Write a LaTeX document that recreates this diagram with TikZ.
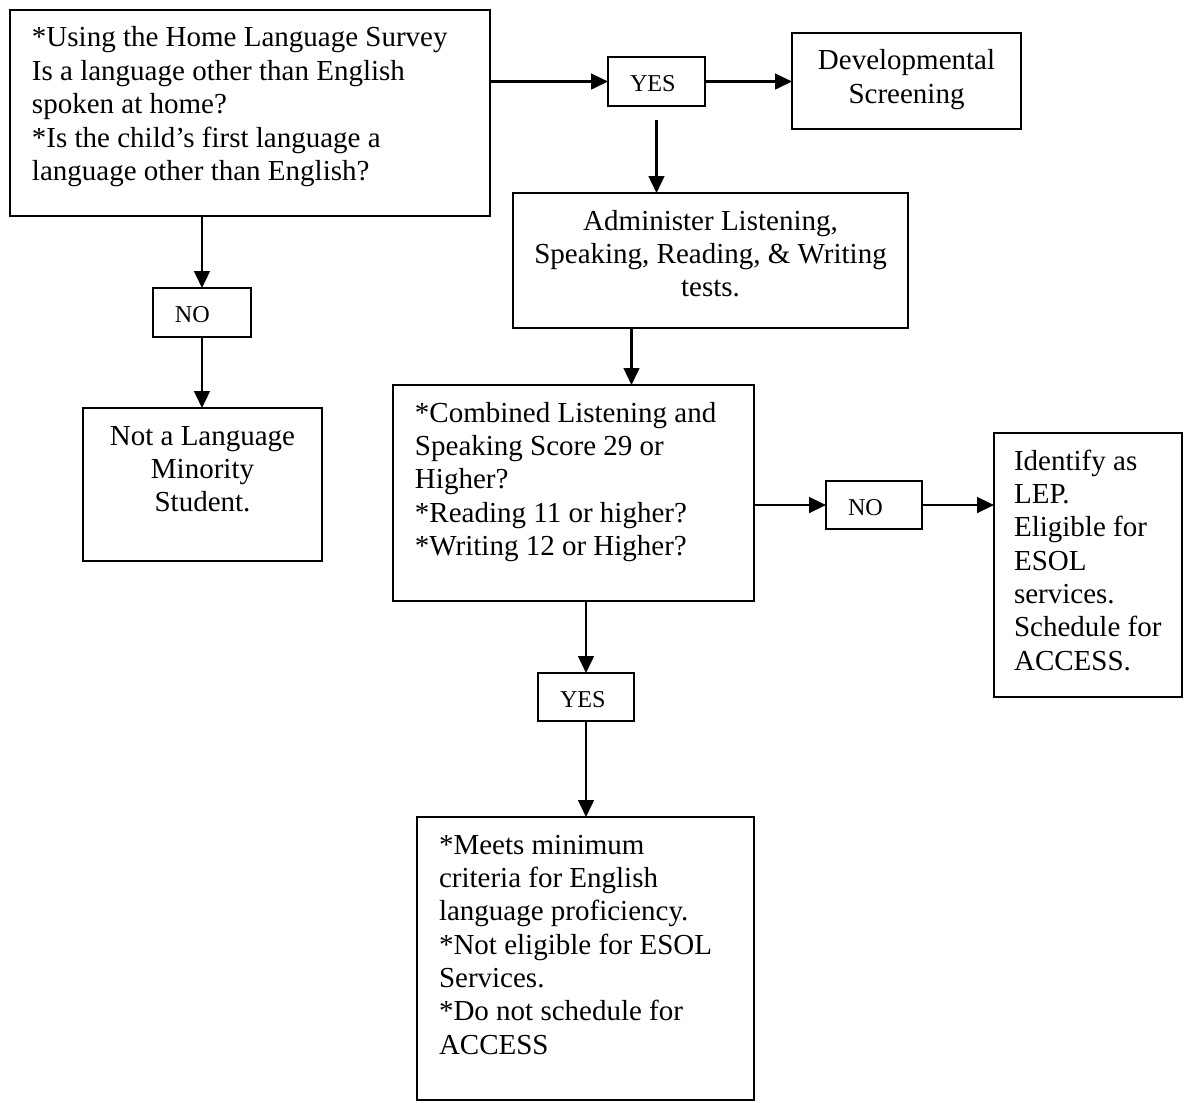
\documentclass[tikz,border=0pt]{standalone}
\usepackage{fontspec}
\setmainfont{Liberation Serif}
\usetikzlibrary{arrows.meta,calc}

\tikzset{
  box/.style={draw, line width=0.9pt, anchor=north west, outer sep=0pt,
    inner xsep=9.1pt, inner ysep=0pt, align=flush left, text height=15.31pt,
    font=\fontsize{12}{13.8}\selectfont},
  midbox/.style={box, align=flush center, inner xsep=4pt},
  tag/.style={box, text height=14.3pt, font=\fontsize{10}{11.5}\selectfont},
  flow/.style={line width=0.9pt, -{Triangle[length=7pt,width=6.5pt]}}
}

\begin{document}
\begin{tikzpicture}[x=0.41379pt, y=-0.41379pt]

% Page
\path[fill=white, use as bounding box] (0,0) rectangle (1188,1102);

% Question boxes
\node[box, text width=180.4pt, text depth=69.93pt] (survey) at (10,10)
  {*Using the Home Language Survey\\ Is a language other than English\\ spoken at home?\\ {*}Is the child's first language a\\ language other than English?};
\node[midbox, text width=86.76pt, text depth=24.41pt] (dev) at (792,33)
  {Developmental\\ Screening};
\node[midbox, text width=155.45pt, text depth=40.55pt] (admin) at (513,193)
  {Administer Listening,\\ Speaking, Reading, \& Writing\\ tests.};
\node[midbox, text width=90.9pt, text depth=48pt] (notlms) at (83,408)
  {Not a Language\\ Minority\\ Student.};
\node[box, text width=131.17pt, text depth=74.07pt] (combo) at (393,385)
  {*Combined Listening and\\ Speaking Score 29 or\\ Higher?\\ {*}Reading 11 or higher?\\ {*}Writing 12 or Higher?};
\node[box, text width=61.24pt, text depth=93.93pt, inner xsep=8.3pt] (lep) at (994,433)
  {Identify as\\ LEP.\\ Eligible for\\ ESOL\\ services.\\ Schedule for\\ ACCESS.};
\node[box, text width=121.24pt, text depth=101.79pt] (meets) at (417,817)
  {*Meets minimum\\ criteria for English\\ language proficiency.\\ {*}Not eligible for ESOL\\ Services.\\ {*}Do not schedule for\\ ACCESS};

% Yes / no boxes
\node[tag, text width=21.93pt, text depth=6pt] (yes1) at (608,57) {YES};
\node[tag, text width=22.34pt, text depth=6pt] (no1) at (153,288) {NO};
\node[tag, text width=21.52pt, text depth=5.59pt] (no2) at (826,481) {NO};
\node[tag, text width=21.52pt, text depth=5.59pt] (yes2) at (538,673) {YES};

% Arrows
\draw[flow] (yes1.west -| survey.east) -- (yes1.west);
\draw[flow] (yes1.east) -- (yes1.east -| dev.west);
\draw[flow, shorten <=5.8pt] (yes1.south) -- (yes1.south |- admin.north);
\draw[flow] (no1.north |- survey.south) -- (no1.north);
\draw[flow] (no1.south) -- (no1.south |- notlms.north);
\coordinate (adminout) at ($(admin.south west)!0.3!(admin.south east)$);
\draw[flow] (adminout) -- (adminout |- combo.north);
\draw[flow] (no2.west -| combo.east) -- (no2.west);
\draw[flow] (no2.east) -- (no2.east -| lep.west);
\draw[flow] (yes2.north |- combo.south) -- (yes2.north);
\draw[flow] (yes2.south) -- (yes2.south |- meets.north);

\end{tikzpicture}
\end{document}
